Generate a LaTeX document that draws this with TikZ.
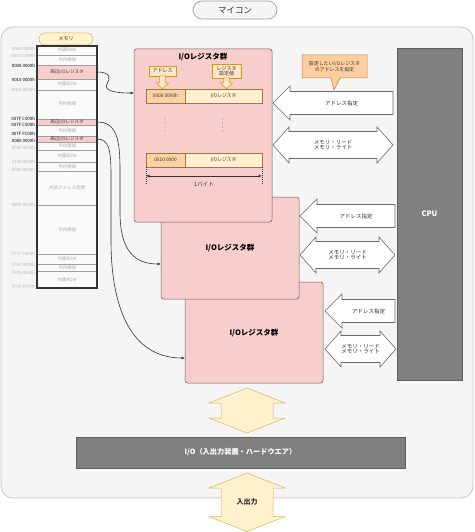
\documentclass[tikz,border=0pt]{standalone}
\usepackage{fontspec}
\setmainfont{Noto Sans CJK JP}
\usetikzlibrary{arrows.meta,calc}
\definecolor{bgc}{HTML}{F5F5F5}
\definecolor{bgline}{HTML}{C6C6C6}
\definecolor{pinkf}{HTML}{F8CECC}
\definecolor{pinkd}{HTML}{6E5656}
\definecolor{yelf}{HTML}{FFF2CC}
\definecolor{yeld}{HTML}{D6B656}
\definecolor{orf}{HTML}{FFE6CC}
\definecolor{ord}{HTML}{D79B00}
\definecolor{addrf}{HTML}{F9D3A3}
\definecolor{regf}{HTML}{FFF0CF}
\definecolor{celld}{HTML}{A8743C}
\definecolor{calf}{HTML}{FFCE9F}
\definecolor{cald}{HTML}{B8814A}
\definecolor{darkf}{HTML}{808080}
\definecolor{darkd}{HTML}{5E5E5E}
\definecolor{memtxt}{HTML}{ABABAB}
\definecolor{memline}{HTML}{A0A0A0}
\definecolor{memf}{HTML}{FAFAFA}
\definecolor{lblgray}{HTML}{B5B5B5}
\definecolor{arrd}{HTML}{6A6A6A}
\definecolor{txt}{HTML}{333333}
\newcommand\myfs[1]{\fontsize{#1}{#1}\selectfont}
\newcommand\lblk[4]{%
  \draw[barrow] (#2,#4) -- (#2+17,#4-17) -- (#2+17,#4-11.5) -- (#3,#4-11.5) -- (#3,#4+11.5) -- (#2+17,#4+11.5) -- (#2+17,#4+17) -- cycle;
  \node[alabel] (#1) at ({(#2+17+#3)/2},#4) {アドレス指定};}
\newcommand\dblk[4]{%
  \draw[barrow] (#2,#4) -- (#2+16,#4-18) -- (#2+16,#4-13.5) -- (#3-16,#4-13.5) -- (#3-16,#4-18) -- (#3,#4) -- (#3-16,#4+18) -- (#3-16,#4+13.5) -- (#2+16,#4+13.5) -- (#2+16,#4+18) -- cycle;
  \node[alabel,align=center] (#1) at ({(#2+#3)/2},#4) {メモリ・リード\\メモリ・ライト};}
\newcommand\vblk[2]{%
  \draw[yarrow] (247,#1) -- (285,#1+15) -- (273,#1+15) -- (273,#2-15) -- (285,#2-15) -- (247,#2) -- (209,#2-15) -- (221,#2-15) -- (221,#1+15) -- (209,#1+15) -- cycle;}
\newcommand\downblk[3]{%
  \draw[fill=orf,draw=ord,line width=0.5] (#1-3,#2) -- (#1+3,#2) -- (#1+3,#3-6) -- (#1+6,#3-6) -- (#1,#3) -- (#1-6,#3-6) -- (#1-3,#3-6) -- cycle;}
\begin{document}
\begin{tikzpicture}[x=1pt,y=-1pt,
  every node/.style={inner sep=0,outer sep=0},
  memrow/.style={draw=memline,line width=0.4,fill=memf,minimum width=60pt,anchor=north west,text height=3pt,text depth=0pt,font=\myfs{4.5},text=memtxt},
  memio/.style={memrow,fill=pinkf,text=txt},
  addrl/.style={anchor=east,font=\myfs{4.4},text=lblgray},
  addrb/.style={addrl,text=black},
  iobox/.style={draw=pinkd,line width=0.5,fill=pinkf,rounded corners=2.5pt,anchor=north west},
  boxtitle/.style={font=\bfseries\myfs{7.5},text=black},
  addrcell/.style={draw=celld,line width=0.5,fill=addrf,anchor=north west,minimum width=39pt,minimum height=14pt,font=\myfs{4.8},text=txt},
  regcell/.style={draw=celld,line width=0.5,fill=regf,anchor=north west,minimum width=77pt,minimum height=14pt,font=\myfs{4.8},text=txt},
  smallc/.style={draw=ord,line width=0.5,fill=orf,anchor=north west,font=\myfs{5},text=txt,align=center},
  barrow/.style={draw=arrd,line width=0.6,fill=white},
  alabel/.style={font=\myfs{5.5},text=txt},
  yarrow/.style={draw=yeld,line width=0.5,fill=yelf},
  dark/.style={draw=darkd,line width=0.6,fill=darkf,anchor=north west,text=white,font=\bfseries\myfs{7}},
  conn/.style={draw=txt,line width=0.6,-{Latex[length=3.5pt,width=3pt]}}]
\useasboundingbox (0,0) rectangle (474,532);
% outer container
\draw[fill=bgc,draw=bgline,line width=0.8,rounded corners=12pt] (1,27) rectangle (473,498);
\node[draw=bgline!80!black,line width=0.7,fill=bgc,rounded corners=9pt,minimum width=84pt,minimum height=18pt,font=\myfs{8.5},text=txt] (title) at (235,10) {マイコン};
% memory
\node[draw=yeld,line width=0.5,fill=yelf,rounded corners=6pt,minimum width=54pt,minimum height=12pt,font=\myfs{5},text=txt] (memt) at (66,39) {メモリ};
\node[memrow,minimum height=9pt] (m1) at (37,46) {内蔵RAM};
\node[memrow,minimum height=10pt] (m2) at (37,55) {予約領域};
\node[memio,minimum height=14pt] (m3) at (37,65) {周辺I/Oレジスタ};
\node[memrow,minimum height=11pt] (m4) at (37,79) {内蔵ROM};
\node[memrow,minimum height=29pt] (m5) at (37,90) {予約領域};
\node[memio,minimum height=6pt] (m6) at (37,119) {周辺I/Oレジスタ};
\node[memrow,minimum height=11pt] (m7) at (37,125) {予約領域};
\node[memio,minimum height=6pt] (m8) at (37,136) {周辺I/Oレジスタ};
\node[memrow,minimum height=8pt] (m9) at (37,142) {予約領域};
\node[memrow,minimum height=12pt] (m10) at (37,150) {内蔵ROM};
\node[memrow,minimum height=9pt] (m11) at (37,162) {予約領域};
\node[memrow,minimum height=34pt] (m12) at (37,171) {外部アドレス空間};
\node[memrow,minimum height=49pt] (m13) at (37,205) {予約領域};
\node[memrow,minimum height=10pt] (m14) at (37,254) {内蔵ROM};
\node[memrow,minimum height=7pt] (m15) at (37,264) {予約領域};
\node[memrow,minimum height=17pt] (m16) at (37,271) {内蔵ROM};
\draw[draw=txt,line width=1.1] (m1.north west) rectangle (m16.south east);
% address labels
\node[addrl] (a1) at (35,48.5) {0000 0000h};
\node[addrl] (a2) at (35,56) {0002 C000h};
\node[addrb] (a3) at (35,66) {0008 0000h};
\node[addrb] (a4) at (35,79.5) {0010 0000h};
\node[addrl] (a5) at (35,90) {0010 8000h};
\node[addrb] (a6) at (35,118.5) {007F C000h};
\node[addrb] (a7) at (35,125) {007F C500h};
\node[addrb] (a8) at (35,134) {007F FC00h};
\node[addrb] (a9) at (35,140.5) {0080 0000h};
\node[addrl] (a10) at (35,147.5) {0F80 0000h};
\node[addrl] (a11) at (35,162) {0100 0000h};
\node[addrl] (a12) at (35,169.5) {0500 0000h};
\node[addrl] (a13) at (35,205) {0800 0000h};
\node[addrl] (a14) at (35,253.5) {FF7F C000h};
\node[addrl] (a15) at (35,265) {FF80 0000h};
\node[addrl] (a16) at (35,272.5) {FFF8 0000h};
\node[addrl] (a17) at (35,287) {FFFF FFFFh};
% I/O register boxes
\node[iobox,minimum width=138pt,minimum height=101pt,boxtitle] (b3) at (185,282) {I/Oレジスタ群};
\node[iobox,minimum width=138pt,minimum height=102pt,boxtitle] (b2) at (161,197) {I/Oレジスタ群};
\node[iobox,minimum width=138pt,minimum height=173pt] (b1) at (134,49) {};
\node[boxtitle] (b1t) at (203,57) {I/Oレジスタ群};
\node[smallc,minimum width=27pt,minimum height=10pt] (ca) at (149,66) {アドレス};
\node[smallc,minimum width=29pt,minimum height=14pt,font=\fontsize{5}{5.6}\selectfont] (cb) at (212,64) {レジスタ\\設定値};
\downblk{162.5}{76}{89}
\downblk{226.5}{78}{89}
\node[addrcell] (r1a) at (146,89) {0008 0000h};
\node[regcell] (r1b) at (185,89) {I/Oレジスタ};
\node[addrcell] (r2a) at (146,153) {0010 0000};
\node[regcell] (r2b) at (185,153) {I/Oレジスタ};
\draw[txt,line width=0.8,line cap=round,dash pattern=on 0pt off 4pt] (165,119) -- (165,134);
\draw[txt,line width=0.8,line cap=round,dash pattern=on 0pt off 4pt] (222.5,119) -- (222.5,134);
\draw[txt,line width=0.5,dash pattern=on 0.8pt off 1.2pt] (r2a.south west) -- ++(0,17);
\draw[txt,line width=0.5,dash pattern=on 0.8pt off 1.2pt] (r2b.south east) -- ++(0,17);
\draw[txt,line width=0.6,{Latex[length=3.5pt,width=3pt]}-{Latex[length=3.5pt,width=3pt]}] ($(r2a.south west)+(0,9)$) -- ($(r2b.south east)+(0,9)$);
\node[font=\myfs{5.5},text=txt] (byte) at (204,184) {1バイト};
% right-hand arrows
\lblk{s1}{273}{393}{103}
\dblk{d1}{273}{393}{145}
\lblk{s2}{300}{395}{216}
\dblk{d2}{300}{395}{255}
\lblk{s3}{325}{395}{311}
\dblk{d3}{325}{396}{349}
% CPU
\node[dark,minimum width=65pt,minimum height=332pt,font=\bfseries\myfs{7.5}] (cpu) at (397,48) {CPU};
% callout
\draw[fill=calf,draw=cald,line width=0.5] (302,55) -- (367,55) -- (367,78) -- (340,78) -- (334,90) -- (331,78) -- (302,78) -- cycle;
\node[font=\fontsize{4.9}{6}\selectfont,text=txt,align=center] (call) at (334.5,66.5) {設定したいI/Oレジスタ\\のアドレスを指定};
% connectors
\coordinate (e1) at (134,93);
\coordinate (e2) at (161,264);
\coordinate (e3) at (185,358);
\draw[conn] (m3.east) .. controls (112,72) and (110,79) .. (107,84) .. controls (104,90) and (112,93) .. (e1);
\draw[conn] (m6.east) .. controls (117,122) and (120,140) .. (120,170) -- (120,212) .. controls (120,250) and (134,264) .. (e2);
\draw[conn] (m8.east) .. controls (109,139) and (111,150) .. (111,175) -- (111,240) .. controls (111,320) and (138,358) .. (e3);
% bottom
\vblk{388}{433}
\node[dark,minimum width=329pt,minimum height=31pt,font=\bfseries\myfs{7.2}] (io) at (76,437) {I/O（入出力装置・ハードウエア）};
\vblk{473}{531.5}
\node[font=\bfseries\myfs{7},text=txt] (inout) at (247,502) {入出力};
\end{tikzpicture}
\end{document}
